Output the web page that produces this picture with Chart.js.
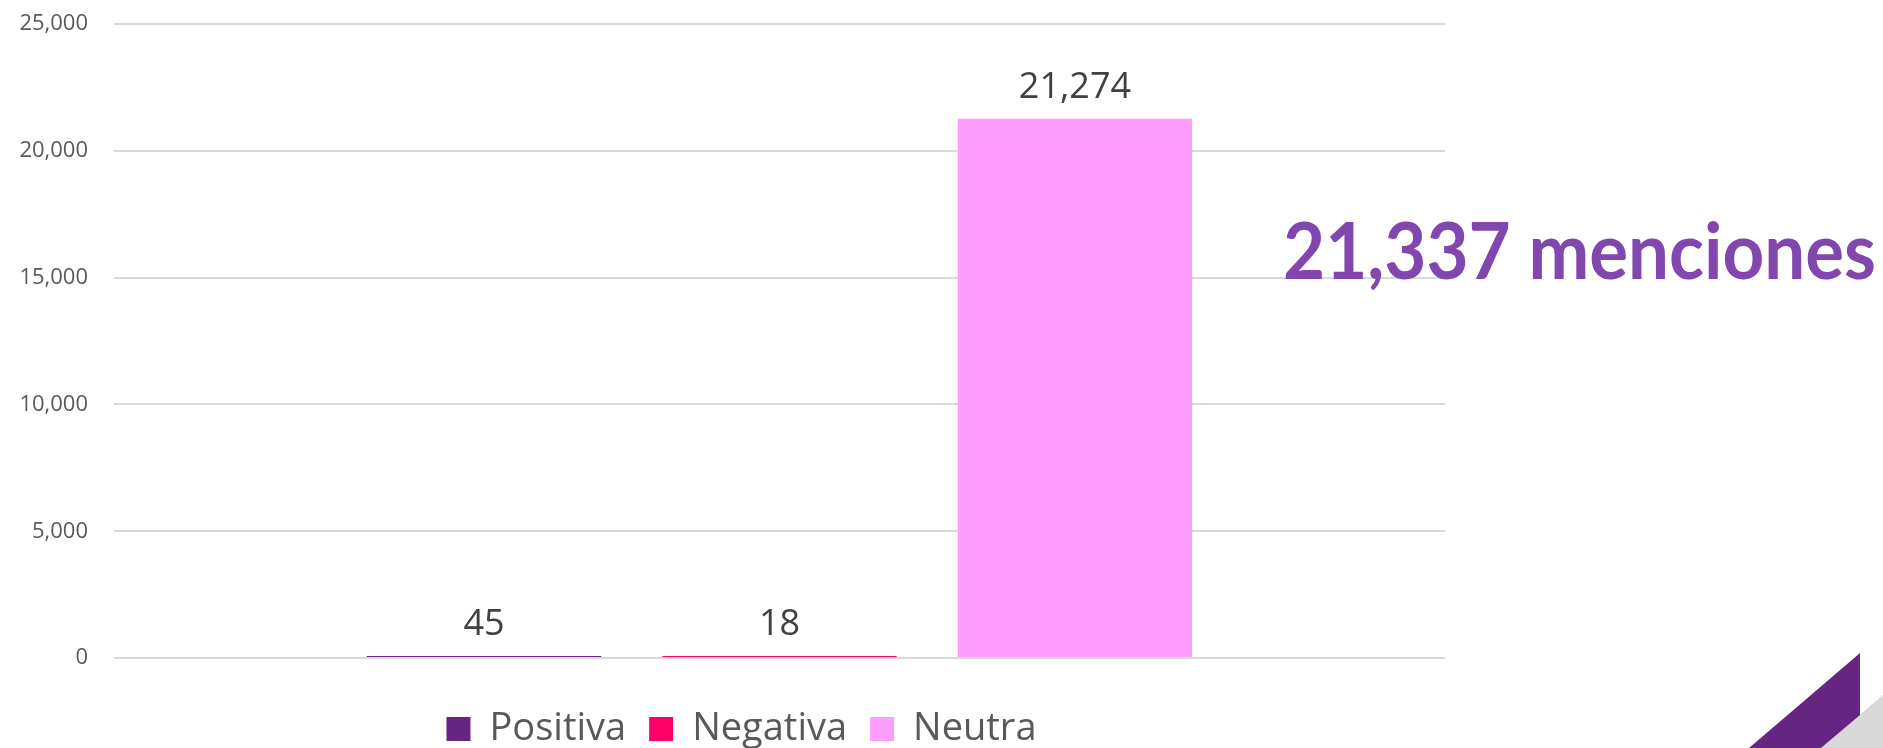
<!DOCTYPE html>
<html>
<head>
<meta charset="utf-8">
<script src="https://cdn.jsdelivr.net/npm/chart.js@4/dist/chart.umd.min.js"></script>
<style>
  body { margin: 0; background: #ffffff; overflow: hidden; }
  #wrap { position: relative; width: 1883px; height: 748px; overflow: hidden; }
  #corner { position: absolute; left: 0; top: 0; }
</style>
</head>
<body>
<div id="wrap">
  <canvas id="sentiment-chart" width="1883" height="758"></canvas>
  <svg id="corner" width="1883" height="748">
    <polygon points="1883,695 1883,748 1821,748" fill="#d9d9d9"></polygon>
    <polygon points="1860,653 1860,715 1821,748 1749,748" fill="#662483"></polygon>
  </svg>
</div>
<script>
// one category, three series (Excel-style clustered bar)
const categories = [""];
const seriesNames = ["Positiva", "Negativa", "Neutra"];
const seriesValues = [45, 18, 21274];
const seriesColors = ["#662483", "#ff0066", "#ff9cff"];
const yMin = 0;
const yMax = 25000;
const yStep = 5000;

const totalMentions = seriesValues.reduce((a, b) => a + b, 0);

let fmt = (v) => Number(v).toLocaleString("en-US");

// numbers above each bar
let valueLabels = {
  id: "valueLabels",
  afterDatasetsDraw(chart) {
    let ctx = chart.ctx;
    ctx.save();
    ctx.font = '36px "Open Sans"';
    ctx.fillStyle = "#404040";
    ctx.textAlign = "center";
    ctx.textBaseline = "alphabetic";
    chart.data.datasets.forEach((ds, i) => {
      chart.getDatasetMeta(i).data.forEach((bar, j) => {
        ctx.fillText(fmt(ds.data[j]), bar.x, bar.y - 21);
      });
    });
    ctx.restore();
  },
};

// big total on the right
let totalText = {
  id: "totalText",
  afterDraw(chart) {
    let ctx = chart.ctx;
    let text = fmt(totalMentions) + " menciones";
    ctx.save();
    ctx.font = 'bold 78px "Lato"';
    ctx.fillStyle = "#8246af";
    ctx.textAlign = "left";
    ctx.textBaseline = "alphabetic";
    let w = ctx.measureText(text).width;
    ctx.translate(1283, 279);
    ctx.scale(593 / w, 1);
    ctx.fillText(text, 0, 0);
    ctx.restore();
  },
};

// excel centres the legend a bit left of the plot centre
let legendShift = {
  id: "legendShift",
  afterLayout(chart) {
    chart.legend.left -= 38;
    chart.legend.right -= 38;
  },
};

let renderChart = () => {
  let canvas = document.getElementById("sentiment-chart");

  new Chart(canvas, {
    type: "bar",
    plugins: [valueLabels, totalText, legendShift],
    data: {
      labels: categories,
      datasets: seriesNames.map((name, i) => ({
        label: name,
        data: [seriesValues[i]],
        backgroundColor: seriesColors[i],
        borderWidth: 0,
        minBarLength: 2,
        barPercentage: 0.793,
        categoryPercentage: 0.666,
      })),
    },
    options: {
      responsive: false,
      devicePixelRatio: 1,
      animation: false,
      layout: {
        padding: { left: 0, right: 438, top: 0, bottom: 0 },
      },
      plugins: {
        tooltip: { enabled: false },
        legend: {
          display: true,
          position: "bottom",
          fullSize: false,
          labels: {
            boxWidth: 24,
            boxHeight: 24,
            padding: 23,
            color: "#595959",
            font: { family: "Open Sans", size: 38 },
          },
        },
      },
      scales: {
        x: {
          display: true,
          grid: { display: false },
          border: { display: false },
          ticks: { display: false },
          afterFit(scale) {
            scale.height = 29;
          },
        },
        y: {
          min: yMin,
          max: yMax,
          border: { display: false },
          grid: {
            color: "#d9d9d9",
            lineWidth: 2,
            drawTicks: true,
            tickLength: 15,
            tickColor: "rgba(0,0,0,0)",
          },
          ticks: {
            stepSize: yStep,
            padding: 11,
            color: "#595959",
            font: { family: "Open Sans", size: 22 },
            callback: (v) => fmt(v),
          },
          afterFit(scale) {
            scale.width = 114;
          },
        },
      },
    },
  });
};

renderChart();
</script>
</body>
</html>
